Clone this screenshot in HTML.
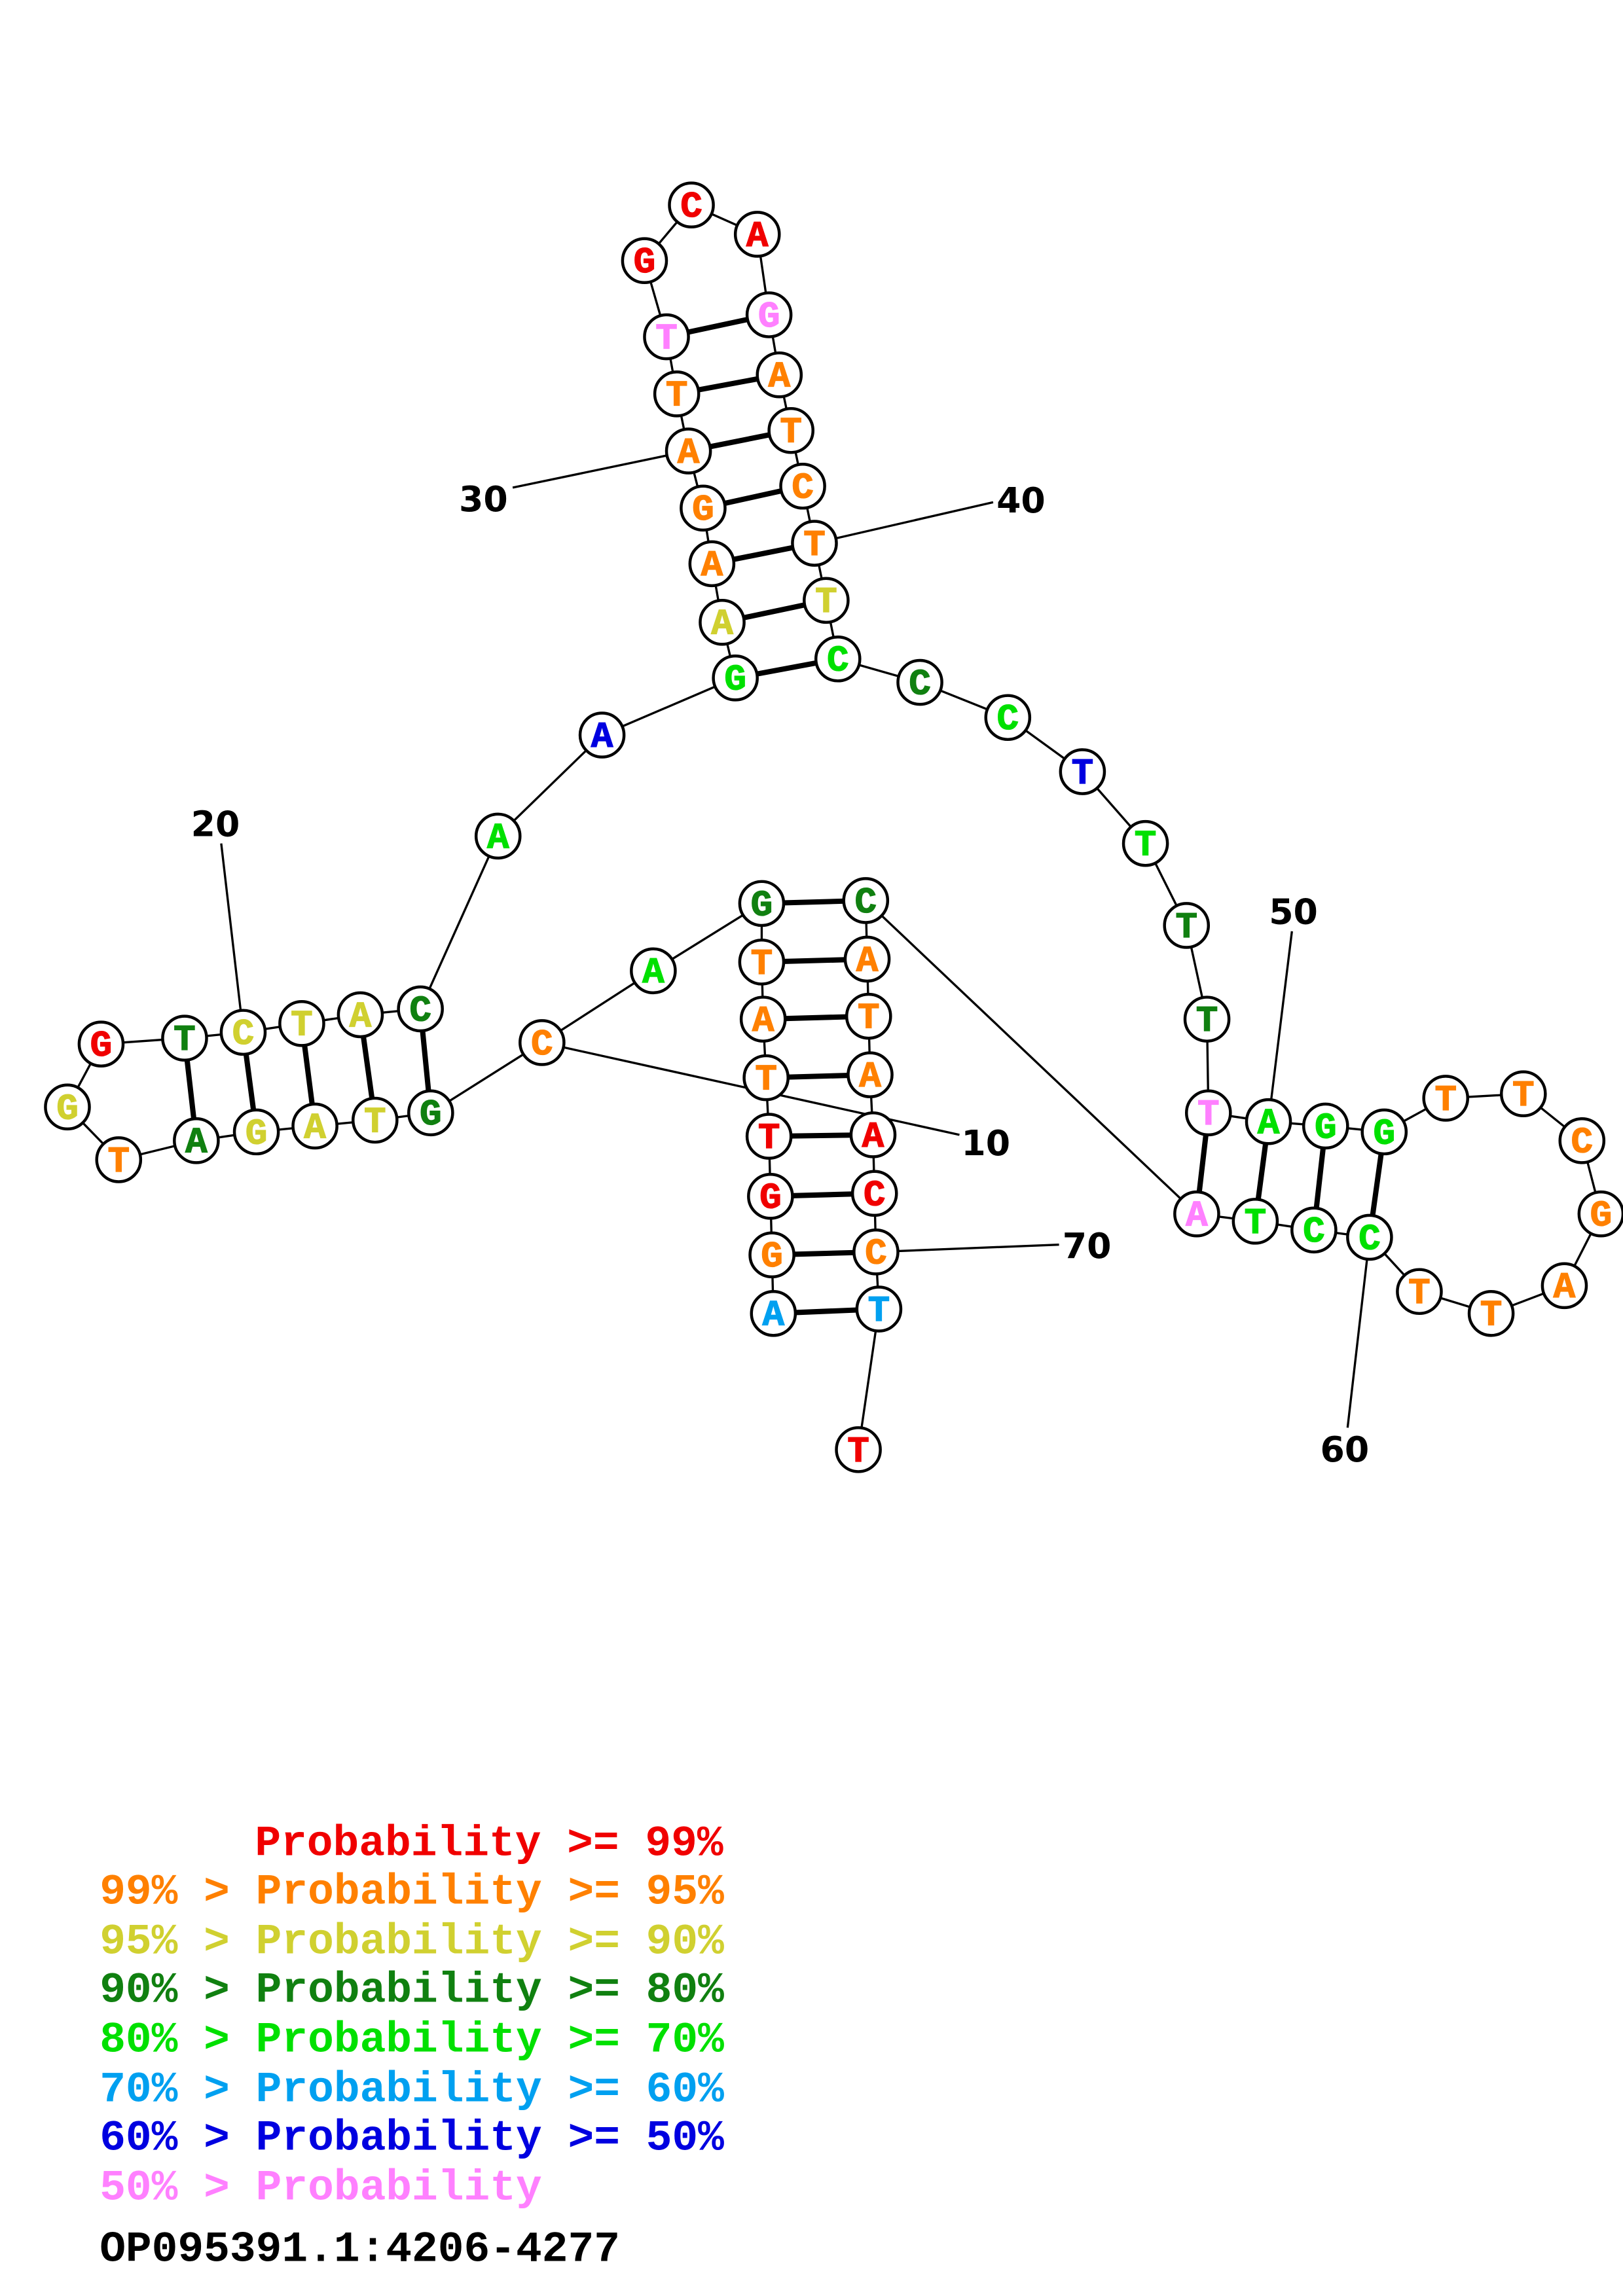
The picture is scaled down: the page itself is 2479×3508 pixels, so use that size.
<!DOCTYPE html>
<html><head><meta charset="utf-8"><style>
html,body{margin:0;padding:0;background:#fff;}
svg{display:block;}
.n circle{fill:#fff;stroke:#000;stroke-width:2;}
.n text{font-family:"Liberation Mono",monospace;font-weight:bold;font-size:25px;text-anchor:middle;stroke-width:0.6;}
.lab{font-family:"DejaVu Sans","Liberation Sans",sans-serif;font-weight:bold;font-size:24px;fill:#000;text-anchor:middle;}
.leg{font-family:"Liberation Mono",monospace;font-weight:bold;font-size:29.6px;}
</style></head><body>
<svg width="2479" height="3508" viewBox="0 0 1108 1568" xmlns="http://www.w3.org/2000/svg">
<rect width="1108" height="1568" fill="#fff"/>
<polyline fill="none" stroke="#000" stroke-width="1.5" points="528,897 527,857 526,817 525,776 523,736 521,696 520,657 520,617 446,663 370,712 294,760 256,765 215,769 175,773 134,779 81,792 46,756 69,713 126,709 166,705 206,699 246,693 287,689 340,571 411,502 502,463 493,425 486,385 480,347 470,308 462,269 455,230 440,178 472,140 517,160 525,215 532,256 540,294 548,332 556,371 564,410 572,450 628,466 688,490 739,527 782,576 810,632 824,696 825,760 866,766 905,769 945,773 987,750 1040,747 1080,779 1093,829 1068,878 1018,897 969,882 935,845 897,840 857,834 817,829 591,615 592,655 593,694 594,734 596,775 597,815 598,855 600,894 586,990"/>
<g stroke="#000" stroke-width="3.6">
<line x1="528" y1="897" x2="600" y2="894"/><line x1="527" y1="857" x2="598" y2="855"/><line x1="526" y1="817" x2="597" y2="815"/><line x1="525" y1="776" x2="596" y2="775"/><line x1="523" y1="736" x2="594" y2="734"/><line x1="521" y1="696" x2="593" y2="694"/><line x1="520" y1="657" x2="592" y2="655"/><line x1="520" y1="617" x2="591" y2="615"/>
<line x1="294" y1="760" x2="287" y2="689"/><line x1="256" y1="765" x2="246" y2="693"/><line x1="215" y1="769" x2="206" y2="699"/><line x1="175" y1="773" x2="166" y2="705"/><line x1="134" y1="779" x2="126" y2="709"/>
<line x1="502" y1="463" x2="572" y2="450"/><line x1="493" y1="425" x2="564" y2="410"/><line x1="486" y1="385" x2="556" y2="371"/><line x1="480" y1="347" x2="548" y2="332"/><line x1="470" y1="308" x2="540" y2="294"/><line x1="462" y1="269" x2="532" y2="256"/><line x1="455" y1="230" x2="525" y2="215"/>
<line x1="825" y1="760" x2="817" y2="829"/><line x1="866" y1="766" x2="857" y2="834"/><line x1="905" y1="769" x2="897" y2="840"/><line x1="945" y1="773" x2="935" y2="845"/>
</g>
<g stroke="#000" stroke-width="1.5">
<line x1="370" y1="712" x2="655" y2="775"/><line x1="166" y1="705" x2="151" y2="576"/><line x1="470" y1="308" x2="350" y2="333"/><line x1="556" y1="371" x2="678" y2="343"/><line x1="866" y1="766" x2="882" y2="636"/><line x1="935" y1="845" x2="920" y2="975"/><line x1="598" y1="855" x2="723" y2="850"/>
</g>
<text class="lab" x="673" y="789">10</text>
<text class="lab" x="147" y="571">20</text>
<text class="lab" x="330" y="349">30</text>
<text class="lab" x="697" y="350">40</text>
<text class="lab" x="883" y="631">50</text>
<text class="lab" x="918" y="998">60</text>
<text class="lab" x="742" y="859">70</text>
<g class="n">
<g fill="#00a0f0" stroke="#00a0f0"><circle cx="528" cy="897" r="15"/><text x="528" y="905">A</text></g>
<g fill="#ff8000" stroke="#ff8000"><circle cx="527" cy="857" r="15"/><text x="527" y="865">G</text></g>
<g fill="#f00000" stroke="#f00000"><circle cx="526" cy="817" r="15"/><text x="526" y="825">G</text></g>
<g fill="#f00000" stroke="#f00000"><circle cx="525" cy="776" r="15"/><text x="525" y="784">T</text></g>
<g fill="#ff8000" stroke="#ff8000"><circle cx="523" cy="736" r="15"/><text x="523" y="744">T</text></g>
<g fill="#ff8000" stroke="#ff8000"><circle cx="521" cy="696" r="15"/><text x="521" y="704">A</text></g>
<g fill="#ff8000" stroke="#ff8000"><circle cx="520" cy="657" r="15"/><text x="520" y="665">T</text></g>
<g fill="#108010" stroke="#108010"><circle cx="520" cy="617" r="15"/><text x="520" y="625">G</text></g>
<g fill="#00e000" stroke="#00e000"><circle cx="446" cy="663" r="15"/><text x="446" y="671">A</text></g>
<g fill="#ff8000" stroke="#ff8000"><circle cx="370" cy="712" r="15"/><text x="370" y="720">C</text></g>
<g fill="#108010" stroke="#108010"><circle cx="294" cy="760" r="15"/><text x="294" y="768">G</text></g>
<g fill="#d0d030" stroke="#d0d030"><circle cx="256" cy="765" r="15"/><text x="256" y="773">T</text></g>
<g fill="#d0d030" stroke="#d0d030"><circle cx="215" cy="769" r="15"/><text x="215" y="777">A</text></g>
<g fill="#d0d030" stroke="#d0d030"><circle cx="175" cy="773" r="15"/><text x="175" y="781">G</text></g>
<g fill="#108010" stroke="#108010"><circle cx="134" cy="779" r="15"/><text x="134" y="787">A</text></g>
<g fill="#ff8000" stroke="#ff8000"><circle cx="81" cy="792" r="15"/><text x="81" y="800">T</text></g>
<g fill="#d0d030" stroke="#d0d030"><circle cx="46" cy="756" r="15"/><text x="46" y="764">G</text></g>
<g fill="#f00000" stroke="#f00000"><circle cx="69" cy="713" r="15"/><text x="69" y="721">G</text></g>
<g fill="#108010" stroke="#108010"><circle cx="126" cy="709" r="15"/><text x="126" y="717">T</text></g>
<g fill="#d0d030" stroke="#d0d030"><circle cx="166" cy="705" r="15"/><text x="166" y="713">C</text></g>
<g fill="#d0d030" stroke="#d0d030"><circle cx="206" cy="699" r="15"/><text x="206" y="707">T</text></g>
<g fill="#d0d030" stroke="#d0d030"><circle cx="246" cy="693" r="15"/><text x="246" y="701">A</text></g>
<g fill="#108010" stroke="#108010"><circle cx="287" cy="689" r="15"/><text x="287" y="697">C</text></g>
<g fill="#00e000" stroke="#00e000"><circle cx="340" cy="571" r="15"/><text x="340" y="579">A</text></g>
<g fill="#0000e0" stroke="#0000e0"><circle cx="411" cy="502" r="15"/><text x="411" y="510">A</text></g>
<g fill="#00e000" stroke="#00e000"><circle cx="502" cy="463" r="15"/><text x="502" y="471">G</text></g>
<g fill="#d0d030" stroke="#d0d030"><circle cx="493" cy="425" r="15"/><text x="493" y="433">A</text></g>
<g fill="#ff8000" stroke="#ff8000"><circle cx="486" cy="385" r="15"/><text x="486" y="393">A</text></g>
<g fill="#ff8000" stroke="#ff8000"><circle cx="480" cy="347" r="15"/><text x="480" y="355">G</text></g>
<g fill="#ff8000" stroke="#ff8000"><circle cx="470" cy="308" r="15"/><text x="470" y="316">A</text></g>
<g fill="#ff8000" stroke="#ff8000"><circle cx="462" cy="269" r="15"/><text x="462" y="277">T</text></g>
<g fill="#ff80ff" stroke="#ff80ff"><circle cx="455" cy="230" r="15"/><text x="455" y="238">T</text></g>
<g fill="#f00000" stroke="#f00000"><circle cx="440" cy="178" r="15"/><text x="440" y="186">G</text></g>
<g fill="#f00000" stroke="#f00000"><circle cx="472" cy="140" r="15"/><text x="472" y="148">C</text></g>
<g fill="#f00000" stroke="#f00000"><circle cx="517" cy="160" r="15"/><text x="517" y="168">A</text></g>
<g fill="#ff80ff" stroke="#ff80ff"><circle cx="525" cy="215" r="15"/><text x="525" y="223">G</text></g>
<g fill="#ff8000" stroke="#ff8000"><circle cx="532" cy="256" r="15"/><text x="532" y="264">A</text></g>
<g fill="#ff8000" stroke="#ff8000"><circle cx="540" cy="294" r="15"/><text x="540" y="302">T</text></g>
<g fill="#ff8000" stroke="#ff8000"><circle cx="548" cy="332" r="15"/><text x="548" y="340">C</text></g>
<g fill="#ff8000" stroke="#ff8000"><circle cx="556" cy="371" r="15"/><text x="556" y="379">T</text></g>
<g fill="#d0d030" stroke="#d0d030"><circle cx="564" cy="410" r="15"/><text x="564" y="418">T</text></g>
<g fill="#00e000" stroke="#00e000"><circle cx="572" cy="450" r="15"/><text x="572" y="458">C</text></g>
<g fill="#108010" stroke="#108010"><circle cx="628" cy="466" r="15"/><text x="628" y="474">C</text></g>
<g fill="#00e000" stroke="#00e000"><circle cx="688" cy="490" r="15"/><text x="688" y="498">C</text></g>
<g fill="#0000e0" stroke="#0000e0"><circle cx="739" cy="527" r="15"/><text x="739" y="535">T</text></g>
<g fill="#00e000" stroke="#00e000"><circle cx="782" cy="576" r="15"/><text x="782" y="584">T</text></g>
<g fill="#108010" stroke="#108010"><circle cx="810" cy="632" r="15"/><text x="810" y="640">T</text></g>
<g fill="#108010" stroke="#108010"><circle cx="824" cy="696" r="15"/><text x="824" y="704">T</text></g>
<g fill="#ff80ff" stroke="#ff80ff"><circle cx="825" cy="760" r="15"/><text x="825" y="768">T</text></g>
<g fill="#00e000" stroke="#00e000"><circle cx="866" cy="766" r="15"/><text x="866" y="774">A</text></g>
<g fill="#00e000" stroke="#00e000"><circle cx="905" cy="769" r="15"/><text x="905" y="777">G</text></g>
<g fill="#00e000" stroke="#00e000"><circle cx="945" cy="773" r="15"/><text x="945" y="781">G</text></g>
<g fill="#ff8000" stroke="#ff8000"><circle cx="987" cy="750" r="15"/><text x="987" y="758">T</text></g>
<g fill="#ff8000" stroke="#ff8000"><circle cx="1040" cy="747" r="15"/><text x="1040" y="755">T</text></g>
<g fill="#ff8000" stroke="#ff8000"><circle cx="1080" cy="779" r="15"/><text x="1080" y="787">C</text></g>
<g fill="#ff8000" stroke="#ff8000"><circle cx="1093" cy="829" r="15"/><text x="1093" y="837">G</text></g>
<g fill="#ff8000" stroke="#ff8000"><circle cx="1068" cy="878" r="15"/><text x="1068" y="886">A</text></g>
<g fill="#ff8000" stroke="#ff8000"><circle cx="1018" cy="897" r="15"/><text x="1018" y="905">T</text></g>
<g fill="#ff8000" stroke="#ff8000"><circle cx="969" cy="882" r="15"/><text x="969" y="890">T</text></g>
<g fill="#00e000" stroke="#00e000"><circle cx="935" cy="845" r="15"/><text x="935" y="853">C</text></g>
<g fill="#00e000" stroke="#00e000"><circle cx="897" cy="840" r="15"/><text x="897" y="848">C</text></g>
<g fill="#00e000" stroke="#00e000"><circle cx="857" cy="834" r="15"/><text x="857" y="842">T</text></g>
<g fill="#ff80ff" stroke="#ff80ff"><circle cx="817" cy="829" r="15"/><text x="817" y="837">A</text></g>
<g fill="#108010" stroke="#108010"><circle cx="591" cy="615" r="15"/><text x="591" y="623">C</text></g>
<g fill="#ff8000" stroke="#ff8000"><circle cx="592" cy="655" r="15"/><text x="592" y="663">A</text></g>
<g fill="#ff8000" stroke="#ff8000"><circle cx="593" cy="694" r="15"/><text x="593" y="702">T</text></g>
<g fill="#ff8000" stroke="#ff8000"><circle cx="594" cy="734" r="15"/><text x="594" y="742">A</text></g>
<g fill="#f00000" stroke="#f00000"><circle cx="596" cy="775" r="15"/><text x="596" y="783">A</text></g>
<g fill="#f00000" stroke="#f00000"><circle cx="597" cy="815" r="15"/><text x="597" y="823">C</text></g>
<g fill="#ff8000" stroke="#ff8000"><circle cx="598" cy="855" r="15"/><text x="598" y="863">C</text></g>
<g fill="#00a0f0" stroke="#00a0f0"><circle cx="600" cy="894" r="15"/><text x="600" y="902">T</text></g>
<g fill="#f00000" stroke="#f00000"><circle cx="586" cy="990" r="15"/><text x="586" y="998">T</text></g>
</g>
<g class="leg">
<text x="174" y="1267" fill="#f00000">Probability &gt;= 99%</text>
<text x="68" y="1300" fill="#ff8000">99% &gt; Probability &gt;= 95%</text>
<text x="68" y="1334" fill="#d0d030">95% &gt; Probability &gt;= 90%</text>
<text x="68" y="1367" fill="#108010">90% &gt; Probability &gt;= 80%</text>
<text x="68" y="1401" fill="#00e000">80% &gt; Probability &gt;= 70%</text>
<text x="68" y="1435" fill="#00a0f0">70% &gt; Probability &gt;= 60%</text>
<text x="68" y="1468" fill="#0000e0">60% &gt; Probability &gt;= 50%</text>
<text x="68" y="1502" fill="#ff80ff">50% &gt; Probability</text>
<text x="68" y="1544" fill="#000">OP095391.1:4206-4277</text>
</g>
</svg>
</body></html>
